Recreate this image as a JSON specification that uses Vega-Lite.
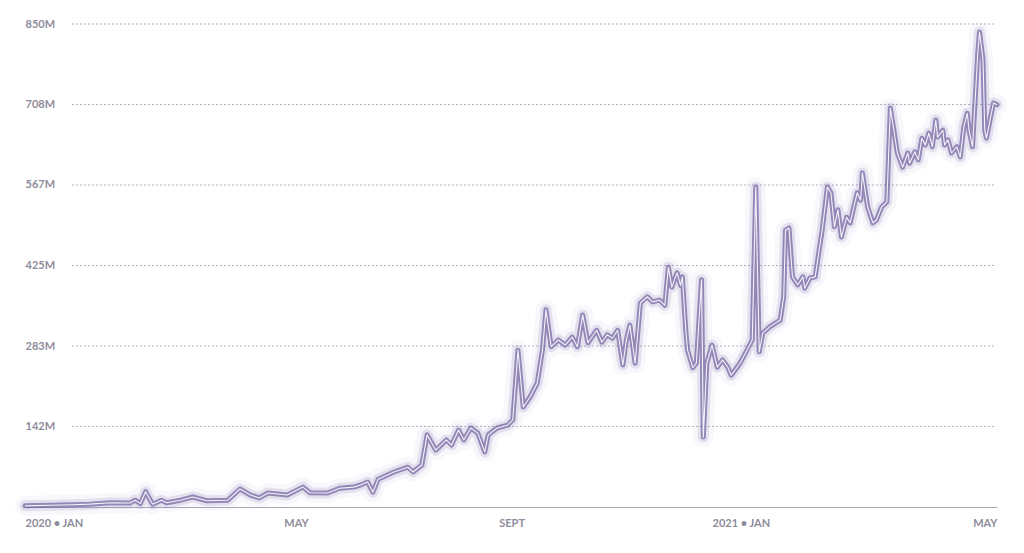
{
  "$schema": "https://vega.github.io/schema/vega-lite/v6.json",
  "width": 972,
  "height": 483,
  "autosize": {"type": "none"},
  "padding": {"left": 25, "top": 24, "right": 27, "bottom": 46},
  "background": "#ffffff",
  "config": {
    "view": {"stroke": null},
    "axis": {"labelFont": "Lato", "labelFontWeight": "bold", "labelFontSize": 11, "labelColor": "#8e8c9b"}
  },
  "datasets": {
    "series": [
      {"date": "2019-12-05", "v": 2},
      {"date": "2019-12-19", "v": 3},
      {"date": "2020-01-01", "v": 4},
      {"date": "2020-01-11", "v": 5},
      {"date": "2020-01-23", "v": 7.5},
      {"date": "2020-02-03", "v": 7},
      {"date": "2020-02-06", "v": 12},
      {"date": "2020-02-09", "v": 6},
      {"date": "2020-02-12", "v": 27},
      {"date": "2020-02-16", "v": 5},
      {"date": "2020-02-21", "v": 12},
      {"date": "2020-02-24", "v": 7.5},
      {"date": "2020-03-03", "v": 12},
      {"date": "2020-03-10", "v": 17.6},
      {"date": "2020-03-18", "v": 11},
      {"date": "2020-03-30", "v": 12},
      {"date": "2020-04-06", "v": 31.7},
      {"date": "2020-04-12", "v": 21},
      {"date": "2020-04-17", "v": 16},
      {"date": "2020-04-22", "v": 24.6},
      {"date": "2020-05-03", "v": 21},
      {"date": "2020-05-12", "v": 35},
      {"date": "2020-05-16", "v": 25},
      {"date": "2020-05-26", "v": 24.6},
      {"date": "2020-06-02", "v": 33},
      {"date": "2020-06-10", "v": 35},
      {"date": "2020-06-14", "v": 38.7},
      {"date": "2020-06-18", "v": 44},
      {"date": "2020-06-21", "v": 26},
      {"date": "2020-06-24", "v": 49},
      {"date": "2020-07-03", "v": 61.6},
      {"date": "2020-07-11", "v": 70},
      {"date": "2020-07-14", "v": 61.6},
      {"date": "2020-07-19", "v": 74},
      {"date": "2020-07-22", "v": 127},
      {"date": "2020-07-27", "v": 100},
      {"date": "2020-08-02", "v": 118},
      {"date": "2020-08-05", "v": 109},
      {"date": "2020-08-09", "v": 135.5},
      {"date": "2020-08-12", "v": 118},
      {"date": "2020-08-16", "v": 139},
      {"date": "2020-08-20", "v": 130},
      {"date": "2020-08-24", "v": 97},
      {"date": "2020-08-26", "v": 127},
      {"date": "2020-08-31", "v": 139},
      {"date": "2020-09-06", "v": 144},
      {"date": "2020-09-09", "v": 153},
      {"date": "2020-09-12", "v": 276},
      {"date": "2020-09-15", "v": 176},
      {"date": "2020-09-19", "v": 194},
      {"date": "2020-09-23", "v": 218},
      {"date": "2020-09-26", "v": 276},
      {"date": "2020-09-28", "v": 347},
      {"date": "2020-10-01", "v": 282},
      {"date": "2020-10-05", "v": 294},
      {"date": "2020-10-09", "v": 285},
      {"date": "2020-10-13", "v": 299},
      {"date": "2020-10-16", "v": 282},
      {"date": "2020-10-19", "v": 338},
      {"date": "2020-10-22", "v": 289},
      {"date": "2020-10-27", "v": 311},
      {"date": "2020-10-30", "v": 290},
      {"date": "2020-11-02", "v": 303},
      {"date": "2020-11-05", "v": 297},
      {"date": "2020-11-08", "v": 311},
      {"date": "2020-11-11", "v": 250},
      {"date": "2020-11-13", "v": 294},
      {"date": "2020-11-15", "v": 320},
      {"date": "2020-11-18", "v": 253},
      {"date": "2020-11-21", "v": 359},
      {"date": "2020-11-25", "v": 370},
      {"date": "2020-11-28", "v": 361},
      {"date": "2020-12-02", "v": 364},
      {"date": "2020-12-05", "v": 355},
      {"date": "2020-12-07", "v": 422},
      {"date": "2020-12-09", "v": 387},
      {"date": "2020-12-12", "v": 412},
      {"date": "2020-12-14", "v": 390},
      {"date": "2020-12-15", "v": 405},
      {"date": "2020-12-17", "v": 310},
      {"date": "2020-12-18", "v": 276},
      {"date": "2020-12-21", "v": 245},
      {"date": "2020-12-23", "v": 253},
      {"date": "2020-12-26", "v": 400},
      {"date": "2020-12-27", "v": 123},
      {"date": "2020-12-29", "v": 253},
      {"date": "2021-01-01", "v": 285},
      {"date": "2021-01-04", "v": 246},
      {"date": "2021-01-07", "v": 259},
      {"date": "2021-01-10", "v": 246},
      {"date": "2021-01-12", "v": 232},
      {"date": "2021-01-17", "v": 253},
      {"date": "2021-01-21", "v": 276},
      {"date": "2021-01-24", "v": 294},
      {"date": "2021-01-26", "v": 563},
      {"date": "2021-01-27", "v": 417},
      {"date": "2021-01-28", "v": 273},
      {"date": "2021-01-30", "v": 306},
      {"date": "2021-02-03", "v": 317},
      {"date": "2021-02-09", "v": 329},
      {"date": "2021-02-11", "v": 370},
      {"date": "2021-02-12", "v": 487},
      {"date": "2021-02-14", "v": 491},
      {"date": "2021-02-16", "v": 405},
      {"date": "2021-02-19", "v": 391},
      {"date": "2021-02-22", "v": 405},
      {"date": "2021-02-23", "v": 385},
      {"date": "2021-02-26", "v": 403},
      {"date": "2021-03-01", "v": 405},
      {"date": "2021-03-03", "v": 447},
      {"date": "2021-03-05", "v": 487},
      {"date": "2021-03-08", "v": 563},
      {"date": "2021-03-10", "v": 553},
      {"date": "2021-03-12", "v": 493},
      {"date": "2021-03-14", "v": 523},
      {"date": "2021-03-16", "v": 475},
      {"date": "2021-03-19", "v": 510},
      {"date": "2021-03-21", "v": 500},
      {"date": "2021-03-25", "v": 553},
      {"date": "2021-03-27", "v": 540},
      {"date": "2021-03-28", "v": 588},
      {"date": "2021-03-31", "v": 528},
      {"date": "2021-04-03", "v": 500},
      {"date": "2021-04-05", "v": 505},
      {"date": "2021-04-08", "v": 528},
      {"date": "2021-04-11", "v": 537},
      {"date": "2021-04-13", "v": 702},
      {"date": "2021-04-15", "v": 663},
      {"date": "2021-04-17", "v": 623},
      {"date": "2021-04-20", "v": 598},
      {"date": "2021-04-23", "v": 623},
      {"date": "2021-04-24", "v": 605},
      {"date": "2021-04-27", "v": 625},
      {"date": "2021-04-29", "v": 611},
      {"date": "2021-05-01", "v": 649},
      {"date": "2021-05-03", "v": 637},
      {"date": "2021-05-05", "v": 658},
      {"date": "2021-05-07", "v": 634},
      {"date": "2021-05-09", "v": 681},
      {"date": "2021-05-10", "v": 651},
      {"date": "2021-05-13", "v": 663},
      {"date": "2021-05-14", "v": 637},
      {"date": "2021-05-16", "v": 646},
      {"date": "2021-05-18", "v": 623},
      {"date": "2021-05-21", "v": 634},
      {"date": "2021-05-23", "v": 616},
      {"date": "2021-05-25", "v": 669},
      {"date": "2021-05-27", "v": 693},
      {"date": "2021-05-28", "v": 663},
      {"date": "2021-05-30", "v": 634},
      {"date": "2021-06-02", "v": 799},
      {"date": "2021-06-03", "v": 836},
      {"date": "2021-06-05", "v": 787},
      {"date": "2021-06-06", "v": 663},
      {"date": "2021-06-07", "v": 649},
      {"date": "2021-06-09", "v": 681},
      {"date": "2021-06-11", "v": 711},
      {"date": "2021-06-13", "v": 708}
    ],
    "grid": [
      {"g": 141.6667},
      {"g": 283.3333},
      {"g": 425},
      {"g": 566.6667},
      {"g": 708.3333},
      {"g": 850}
    ]
  },
  "layer": [
    {
      "data": {"name": "grid"},
      "mark": {"type": "rule", "color": "#9c9aa8", "strokeWidth": 1, "strokeDash": [1.5, 2.5]},
      "encoding": {
        "x": {"datum": {"year": 2020, "month": 1, "date": 1, "utc": true}, "type": "temporal",
              "scale": {"type": "utc", "domain": [{"year": 2019, "month": 12, "date": 5, "utc": true}, {"year": 2021, "month": 6, "date": 13, "utc": true}]}},
        "x2": {"datum": {"year": 2021, "month": 6, "date": 12, "utc": true}},
        "y": {"field": "g", "type": "quantitative",
              "scale": {"domain": [0, 850], "nice": false},
              "axis": {
                "title": null,
                "values": [141.6667, 283.3333, 425, 566.6667, 708.3333, 850],
                "labelExpr": "format(datum.value, '.0f') + 'M'",
                "labelAlign": "left",
                "labelBaseline": "middle",
                "labelPadding": 0,
                "labelFlush": false,
                "labelOverlap": false,
                "labelBound": false,
                "ticks": false,
                "tickSize": 0,
                "domain": false,
                "grid": false
              }}
      }
    },
    {
      "data": {"name": "series"},
      "encoding": {
        "x": {"field": "date", "type": "temporal",
              "scale": {"type": "utc", "domain": [{"year": 2019, "month": 12, "date": 5, "utc": true}, {"year": 2021, "month": 6, "date": 13, "utc": true}]},
              "axis": {
                "title": null,
                "values": [
                  {"year": 2019, "month": 12, "date": 5, "utc": true},
                  {"year": 2020, "month": 5, "date": 1, "utc": true},
                  {"year": 2020, "month": 9, "date": 1, "utc": true},
                  {"year": 2021, "month": 1, "date": 1, "utc": true},
                  {"year": 2021, "month": 6, "date": 13, "utc": true}
                ],
                "labelExpr": "datum.index == 0 ? '2020 • JAN' : datum.index == 1 ? 'MAY' : utcmonth(datum.value) == 0 ? utcyear(datum.value) + ' • JAN' : utcmonth(datum.value) == 8 ? 'SEPT' : 'MAY'",
                "labelAlign": {"condition": {"test": "datum.index == 1", "value": "right"}, "value": "left"},
                "labelBaseline": "top",
                "labelPadding": 10,
                "labelOverlap": false,
                "labelFlush": false,
                "ticks": false,
                "tickSize": 0,
                "grid": false,
                "domain": true,
                "domainColor": "#a9a7b5",
                "domainWidth": 1
              }},
        "y": {"field": "v", "type": "quantitative", "scale": {"domain": [0, 850], "nice": false}}
      },
      "layer": [
        {"mark": {"type": "line", "interpolate": "linear", "color": "#9d90c4", "strokeWidth": 20, "opacity": 0.07, "strokeJoin": "round", "strokeCap": "round"}},
        {"mark": {"type": "line", "interpolate": "linear", "color": "#7d6dac", "strokeWidth": 11, "opacity": 0.16, "strokeJoin": "round", "strokeCap": "round"}},
        {"mark": {"type": "line", "interpolate": "linear", "color": "#67569a", "strokeWidth": 5, "opacity": 0.65, "strokeJoin": "round", "strokeCap": "round"}},
        {"mark": {"type": "line", "interpolate": "linear", "color": "#f3f1f8", "strokeWidth": 1.1, "strokeJoin": "round"}}
      ]
    }
  ]
}
